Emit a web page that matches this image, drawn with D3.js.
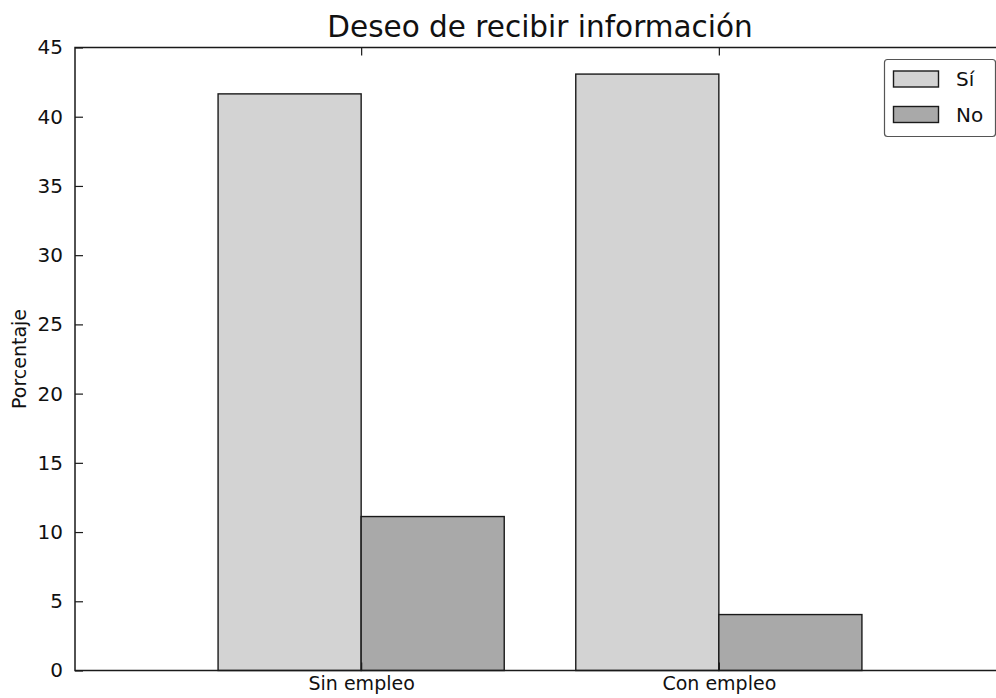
<!DOCTYPE html>
<html>
<head>
<meta charset="utf-8">
<script src="https://cdn.jsdelivr.net/npm/d3@7"></script>
<style>
  html, body { margin: 0; padding: 0; background: #fff; }
  svg { display: block; font-family: "DejaVu Sans", sans-serif; }
</style>
</head>
<body>
<svg id="chart" width="996" height="698"></svg>
<script>
const categories = ["Sin empleo", "Con empleo"];
const seriesNames = ["Sí", "No"];
const siValues = [41.65, 43.08];
const noValues = [11.12, 4.04];
const yTicks = [0, 5, 10, 15, 20, 25, 30, 35, 40, 45];
const seriesColors = ["#d3d3d3", "#a9a9a9"];

(function () {
const svg = d3.select("#chart");
const pLeft = 75, pRight = 1005, pTop = 47.5, pBottom = 670.5;

const x = d3.scaleLinear().domain([-0.8, 1.8]).range([pLeft, pRight]);
const y = d3.scaleLinear().domain([0, 45]).range([pBottom, pTop]);
const barW = 0.4;

const series = [siValues, noValues];
const g = svg.append("g");

series.forEach((vals, si) => {
  g.selectAll(null).data(vals).enter().append("rect")
    .attr("x", (d, i) => x(i + (si === 0 ? -barW : 0)))
    .attr("width", x(barW) - x(0))
    .attr("y", d => y(d))
    .attr("height", d => y(0) - y(d))
    .attr("fill", seriesColors[si])
    .attr("stroke", "#1a1a1a")
    .attr("stroke-width", 1.4);
});

// frame
svg.append("rect").attr("x", pLeft).attr("y", pTop)
  .attr("width", pRight - pLeft).attr("height", pBottom - pTop)
  .attr("fill", "none").attr("stroke", "#1a1a1a").attr("stroke-width", 1.5);

// y axis (ticks inside)
const yAxis = d3.axisLeft(y).tickValues(yTicks).tickSize(-8).tickPadding(12).tickFormat(d3.format("d"));
const ya = svg.append("g").attr("transform", `translate(${pLeft},0)`).call(yAxis);
ya.select(".domain").remove();
ya.selectAll("line").attr("stroke", "#1a1a1a").attr("stroke-width", 1.2);
ya.selectAll("text").attr("font-size", 20).attr("fill", "#111").attr("font-family", "DejaVu Sans");

// x axis bottom (ticks inside)
const xAxis = d3.axisBottom(x).tickValues([0, 1]).tickSize(-8).tickPadding(6).tickFormat((d, i) => categories[i]);
const xa = svg.append("g").attr("transform", `translate(0,${pBottom})`).call(xAxis);
xa.select(".domain").remove();
xa.selectAll("line").attr("stroke", "#1a1a1a").attr("stroke-width", 1.2);
xa.selectAll("text").attr("font-size", 19).attr("fill", "#111").attr("font-family", "DejaVu Sans");

// top ticks
const xTop = d3.axisTop(x).tickValues([0, 1]).tickSize(-8).tickFormat("");
const xt = svg.append("g").attr("transform", `translate(0,${pTop})`).call(xTop);
xt.select(".domain").remove();
xt.selectAll("line").attr("stroke", "#1a1a1a").attr("stroke-width", 1.2);

// title
svg.append("text").attr("x", (pLeft + pRight) / 2).attr("y", 37)
  .attr("text-anchor", "middle").attr("font-size", 29.5).attr("fill", "#111")
  .text("Deseo de recibir información");

// y label
svg.append("text").attr("transform", `translate(26,${(pTop + pBottom) / 2}) rotate(-90)`)
  .attr("text-anchor", "middle").attr("font-size", 19).attr("fill", "#111")
  .text("Porcentaje");

// legend
const lg = svg.append("g");
lg.append("rect").attr("x", 884.5).attr("y", 59.5).attr("width", 111).attr("height", 77)
  .attr("rx", 3).attr("fill", "#fff").attr("stroke", "#555").attr("stroke-width", 1.2);
seriesNames.forEach((name, i) => {
  const yy = 71 + i * 35.5;
  lg.append("rect").attr("x", 893.5).attr("y", yy).attr("width", 45).attr("height", 16)
    .attr("fill", seriesColors[i]).attr("stroke", "#1a1a1a").attr("stroke-width", 1.4);
  lg.append("text").attr("x", 956).attr("y", yy + 15).attr("font-size", 20).attr("fill", "#111")
    .text(name);
});
})();
</script>
</body>
</html>
